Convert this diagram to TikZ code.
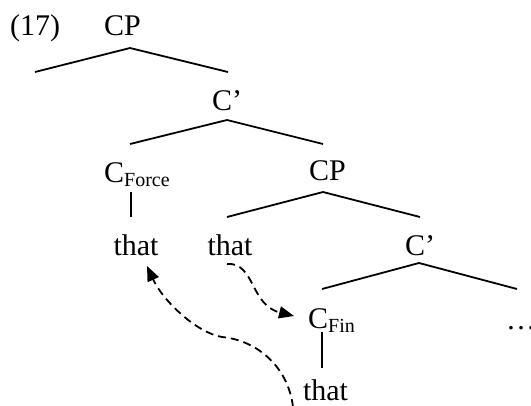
\documentclass[tikz,border=0pt]{standalone}
\usepackage{fontspec}
\setmainfont{Liberation Serif}
\usetikzlibrary{arrows.meta}
\newcommand{\subtxt}[1]{{\fontsize{20}{24}\selectfont\raisebox{-4pt}{#1}}}
\begin{document}
\begin{tikzpicture}[x=1pt,y=-1pt,
  lbl/.style={inner sep=0pt,font=\fontsize{30}{36}\selectfont},
  branch/.style={line width=1.8pt},
  move/.style={line width=1.8pt,dash pattern=on 8pt off 5pt,-{Triangle[length=15pt,width=12pt]}}]
\useasboundingbox (0,0) rectangle (531,405);
% labels
\node[lbl,anchor=base west] (num) at (10,35) {(17)};
\node[lbl,anchor=base] (cp1) at (122.5,35) {CP};
\node[lbl,anchor=base] (cb1) at (227,110) {C’};
\node[lbl,anchor=base west] (cforce) at (104,182) {C\subtxt{Force}};
\node[lbl,anchor=base] (cp2) at (327.5,180) {CP};
\node[lbl,anchor=base] (that1) at (136,255) {that};
\node[lbl,anchor=base] (that2) at (230,255) {that};
\node[lbl,anchor=base] (cb2) at (420,255) {C’};
\node[lbl,anchor=base west] (cfin) at (308,328) {C\subtxt{Fin}};
\node[lbl,anchor=base west] (dots) at (506,329) {…};
\node[lbl,anchor=base] (that3) at (325.5,400) {that};
% branch points
\coordinate (a1) at (130,48);  \coordinate (l1) at (35,72);   \coordinate (r1) at (228,72);
\coordinate (a2) at (227,120); \coordinate (l2) at (130,144); \coordinate (r2) at (323,144);
\coordinate (a3) at (323,192); \coordinate (l3) at (227,217); \coordinate (r3) at (420,217);
\coordinate (a4) at (419,263); \coordinate (l4) at (322,289); \coordinate (r4) at (517,289);
\coordinate (v1t) at (131,192); \coordinate (v1b) at (131,217);
\coordinate (v2t) at (322,332); \coordinate (v2b) at (322,368);
\draw[branch] (l1) -- (a1) -- (r1);
\draw[branch] (l2) -- (a2) -- (r2);
\draw[branch] (l3) -- (a3) -- (r3);
\draw[branch] (l4) -- (a4) -- (r4);
\draw[branch] (v1t) -- (v1b);
\draw[branch] (v2t) -- (v2b);
% movement arrows
\coordinate (m1s) at (227,264); \coordinate (m1e) at (294,316);
\coordinate (m2s) at (293,407); \coordinate (m2m) at (222,337); \coordinate (m2e) at (147,266);
\draw[move] (m1s) .. controls (255,262) and (250,305) .. (m1e);
\draw[move] (m2s) .. controls (288,365) and (255,340) .. (m2m)
   .. controls (197,333) and (163,301) .. (m2e);
\end{tikzpicture}
\end{document}
